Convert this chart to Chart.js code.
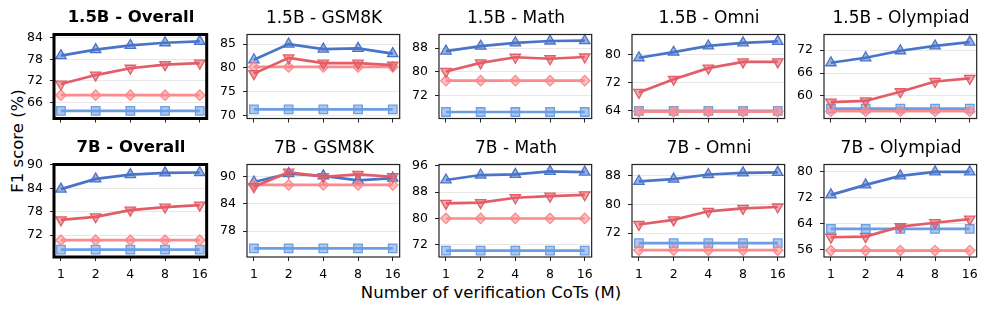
<!DOCTYPE html>
<html>
<head>
<meta charset="utf-8">
<script src="https://cdn.jsdelivr.net/npm/chart.js@4/dist/chart.umd.min.js"></script>
<style>
  html, body { margin:0; padding:0; background:#fff; }
  #wrap { position:relative; width:990px; height:313px; overflow:hidden; font-family:"DejaVu Sans", sans-serif; color:#000; }
  canvas { position:absolute; }
  .ttl { position:absolute; font-size:17px; line-height:16px; text-align:center; white-space:nowrap; }
  .bold { font-weight:bold; font-size:16.5px; }
  #xlab { position:absolute; left:0; width:982px; top:285px; font-size:16.5px; line-height:16px; text-align:center; white-space:nowrap; }
  #ylab { position:absolute; left:18px; top:141px; font-size:16.5px; line-height:16px; white-space:nowrap; transform:translate(-50%,-50%) rotate(-90deg); }
</style>
</head>
<body>
<div id="wrap">
  <div id="xlab">Number of verification CoTs (M)</div>
  <div id="ylab">F1 score (%)</div>
</div>
<script>
// ---- data ----
const xLabels = ['1', '2', '4', '8', '16'];
const titles = ['1.5B - Overall', '1.5B - GSM8K', '1.5B - Math', '1.5B - Omni', '1.5B - Olympiad',
                '7B - Overall', '7B - GSM8K', '7B - Math', '7B - Omni', '7B - Olympiad'];
const upValues = [
  [79.0, 80.7, 81.85, 82.6, 83.0],
  [81.7, 85.0, 83.95, 84.1, 83.0],
  [87.0, 88.65, 89.8, 90.4, 90.5],
  [79.2, 80.8, 82.6, 83.5, 83.9],
  [68.7, 70.0, 71.85, 73.1, 74.1],
  [83.8, 86.4, 87.5, 87.95, 88.05],
  [88.85, 90.7, 90.2, 89.2, 89.7],
  [91.7, 93.2, 93.4, 94.3, 94.1],
  [86.5, 87.1, 88.4, 88.85, 89.0],
  [72.9, 76.0, 78.8, 80.0, 80.0]
];
const downValues = [
  [71.1, 73.6, 75.5, 76.5, 76.9],
  [78.8, 82.1, 81.0, 81.0, 80.6],
  [80.1, 83.0, 84.9, 84.4, 85.0],
  [69.2, 73.0, 76.2, 78.0, 78.0],
  [58.4, 58.7, 61.1, 63.8, 64.6],
  [75.9, 76.7, 78.4, 79.2, 79.7],
  [87.8, 91.0, 90.0, 90.5, 90.0],
  [84.6, 84.8, 86.3, 86.8, 87.2],
  [74.4, 75.7, 78.1, 78.9, 79.3],
  [59.8, 60.0, 63.1, 64.3, 65.4]
];
const diamondValues = [
  [68.0, 68.0, 68.0, 68.0, 68.0],
  [80.2, 80.2, 80.2, 80.2, 80.2],
  [77.0, 77.0, 77.0, 77.0, 77.0],
  [63.7, 63.7, 63.7, 63.7, 63.7],
  [56.0, 56.0, 56.0, 56.0, 56.0],
  [70.7, 70.7, 70.7, 70.7, 70.7],
  [88.2, 88.2, 88.2, 88.2, 88.2],
  [80.0, 80.0, 80.0, 80.0, 80.0],
  [67.2, 67.2, 67.2, 67.2, 67.2],
  [55.7, 55.7, 55.7, 55.7, 55.7]
];
const squareValues = [
  [63.6, 63.6, 63.6, 63.6, 63.6],
  [71.3, 71.3, 71.3, 71.3, 71.3],
  [66.4, 66.4, 66.4, 66.4, 66.4],
  [63.9, 63.9, 63.9, 63.9, 63.9],
  [56.7, 56.7, 56.7, 56.7, 56.7],
  [68.3, 68.3, 68.3, 68.3, 68.3],
  [74.2, 74.2, 74.2, 74.2, 74.2],
  [70.25, 70.25, 70.25, 70.25, 70.25],
  [69.2, 69.2, 69.2, 69.2, 69.2],
  [62.4, 62.4, 62.4, 62.4, 62.4]
];
const yTicks = [
  [66, 72, 78, 84], [70, 75, 80, 85], [72, 80, 88], [64, 72, 80], [60, 66, 72],
  [72, 78, 84, 90], [78, 84, 90], [72, 80, 88, 96], [72, 80, 88], [56, 64, 72, 80]
];
const yMin = [61.5, 69.4, 64.2, 61.7, 54.1, 66.4, 72.3, 68.3, 65.3, 53.7];
const yMax = [84.9, 87.0, 92.6, 85.9, 76.1, 90.1, 92.7, 96.4, 91.2, 82.3];

// ---- layout / style ----
const panelLefts = [54, 247, 439, 632, 824];
const rowTops = [26, 156];
const PW = 154, PH = 101, YW = 40, PADT = 6, PADR = 6;
const BLUE = '#4a74c9', RED = '#e25d67', PINK = '#fb8a8d', LBLUE = '#6a9de4';
const tickFont = { family: 'DejaVu Sans', size: 12.5 };

function alpha(hex, a) {
  const n = parseInt(hex.slice(1), 16);
  return `rgba(${(n >> 16) & 255},${(n >> 8) & 255},${n & 255},${a})`;
}
function ds(vals, color, style, rot, r) {
  return {
    data: vals.map((v, k) => ({ x: k, y: v })),
    borderColor: color, backgroundColor: alpha(color, 0.55),
    borderWidth: 2.7, pointStyle: style, pointRotation: rot, pointRadius: r,
    pointBorderWidth: 1.3, pointBorderColor: color, pointBackgroundColor: alpha(color, 0.55),
    tension: 0, fill: false, clip: false
  };
}
const frame = {
  id: 'frame',
  afterDraw(c, args, o) {
    const a = c.chartArea, ctx = c.ctx;
    ctx.save();
    ctx.strokeStyle = o.color; ctx.lineWidth = o.width;
    ctx.strokeRect(a.left, a.top, a.right - a.left, a.bottom - a.top);
    ctx.restore();
  }
};

const wrap = document.getElementById('wrap');
for (let i = 0; i < 10; i++) {
  const row = i < 5 ? 0 : 1, col = i % 5;
  const L = panelLefts[col], T = rowTops[row];
  const overall = col === 0;
  const xh = row ? 26 : 0;
  const cv = document.createElement('canvas');
  const W = YW + PW + PADR, H = PADT + PH + (row ? xh : 6);
  cv.width = W; cv.height = H;
  cv.style.left = (L - YW) + 'px'; cv.style.top = (T - PADT) + 'px';
  cv.style.width = W + 'px'; cv.style.height = H + 'px';
  wrap.appendChild(cv);

  const t = document.createElement('div');
  t.className = 'ttl' + (overall ? ' bold' : '');
  t.textContent = titles[i];
  t.style.left = L + 'px'; t.style.width = PW + 'px'; t.style.top = (T - 17) + 'px';
  wrap.appendChild(t);

  new Chart(cv, {
    type: 'line',
    data: {
      datasets: [
        ds(downValues[i], RED, 'triangle', 180, 6),
        ds(diamondValues[i], PINK, 'rectRot', 0, 5.2),
        ds(upValues[i], BLUE, 'triangle', 0, 6),
        ds(squareValues[i], LBLUE, 'rect', 0, 6)
      ]
    },
    options: {
      animation: false, responsive: false, devicePixelRatio: 1,
      layout: { padding: { top: PADT, right: PADR, left: 0, bottom: row ? 0 : 6 } },
      plugins: {
        legend: { display: false }, tooltip: { enabled: false },
        frame: { color: overall ? '#000' : '#222', width: overall ? 3 : 1.2 }
      },
      scales: {
        x: {
          type: 'linear', min: -0.2, max: 4.2,
          afterBuildTicks: s => { s.ticks = xLabels.map((_, k) => ({ value: k })); },
          ticks: { display: row === 1, callback: v => xLabels[v], font: tickFont, color: '#000', padding: 6, autoSkip: false, maxRotation: 0 },
          grid: { drawOnChartArea: false, tickLength: 4, tickColor: '#222', tickWidth: 1 },
          border: { display: false },
          afterFit: s => { s.height = xh; }
        },
        y: {
          min: yMin[i], max: yMax[i],
          afterBuildTicks: s => { s.ticks = yTicks[i].map(v => ({ value: v })); },
          ticks: { padding: 7, font: tickFont, color: '#000' },
          grid: { color: '#e8e8e8', lineWidth: 1, tickColor: '#222', tickLength: 4, tickWidth: 1 },
          border: { display: false },
          afterFit: s => { s.width = YW; }
        }
      }
    },
    plugins: [frame]
  });
}
</script>
</body>
</html>
